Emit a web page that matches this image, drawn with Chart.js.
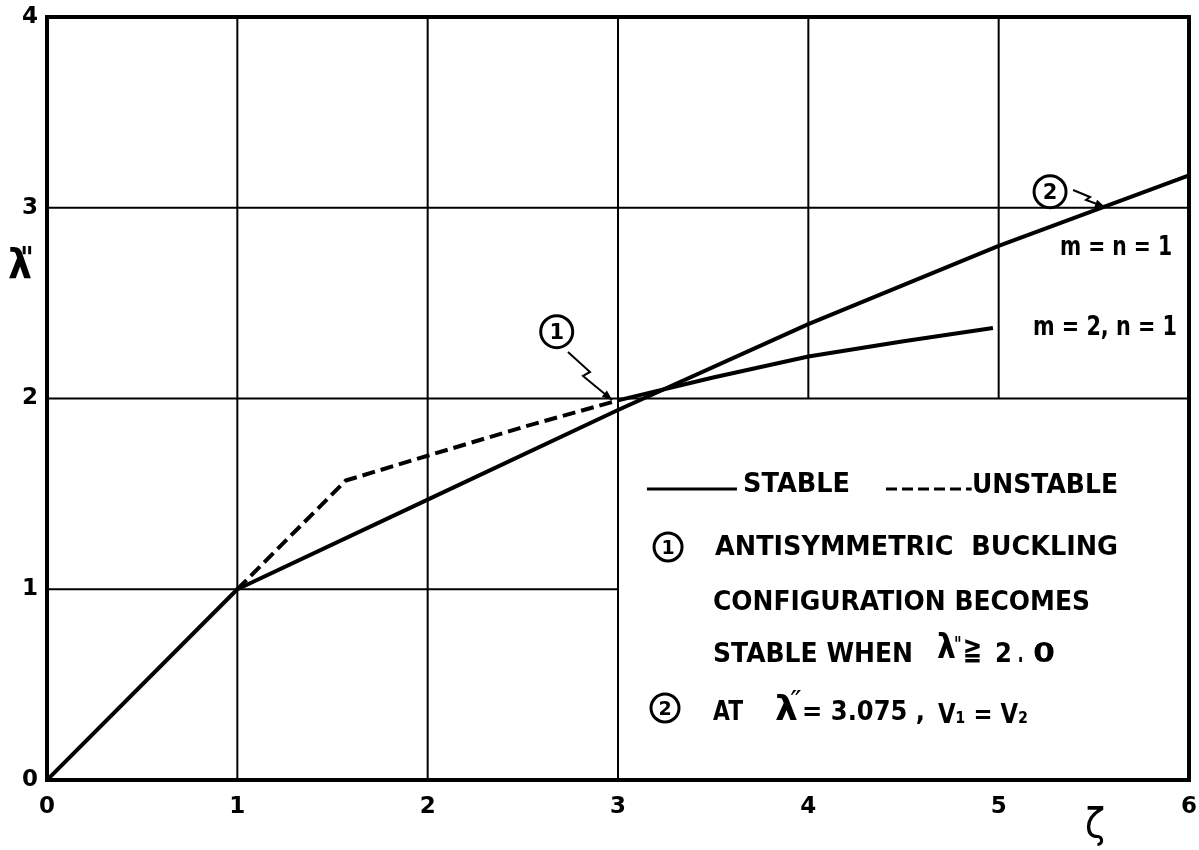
<!DOCTYPE html>
<html><head><meta charset="utf-8">
<script src="https://cdn.jsdelivr.net/npm/chart.js@4.4.0/dist/chart.umd.min.js"></script>
<style>html,body{margin:0;padding:0;background:#fff;}canvas{display:block;}</style>
</head><body>
<canvas id="c" width="1199" height="850"></canvas>
<script>
// ---- data ----
const xTicks = [0, 1, 2, 3, 4, 5, 6];
const yTicks = [0, 1, 2, 3, 4];
const mnOneX = [0, 1, 2, 3, 4, 5, 6];
const mnOneY = [0, 1, 1.47, 1.94, 2.39, 2.80, 3.17];
const mTwoUnstableX = [1, 1.57, 2, 2.5, 3.0];
const mTwoUnstableY = [1, 1.57, 1.70, 1.85, 1.99];
const mTwoStableX = [3.0, 3.5, 4, 4.5, 4.97];
const mTwoStableY = [1.99, 2.11, 2.22, 2.30, 2.37];
// grid segments: [value, from, to]
const vGrid = [[1, 0, 4], [2, 0, 4], [3, 0, 4], [4, 2, 4], [5, 2, 4]];
const hGrid = [[1, 0, 3], [2, 0, 6], [3, 0, 6]];

const FAM = '"DejaVu Sans", "Liberation Sans", sans-serif';
const pts = (xs, ys) => xs.map((x, i) => ({x, y: ys[i]}));

function fitText(ctx, text, x0, x1, base, size, weight) {
  ctx.save();
  ctx.font = (weight || 'bold') + ' ' + size + 'px ' + FAM;
  const w = ctx.measureText(text).width;
  ctx.translate(x0, base);
  ctx.scale((x1 - x0) / w, 1);
  ctx.textAlign = 'left';
  ctx.textBaseline = 'alphabetic';
  ctx.fillStyle = '#000';
  ctx.fillText(text, 0, 0);
  ctx.restore();
}

const decor = {
  id: 'decor',
  beforeDatasetsDraw(chart) {
    const ctx = chart.ctx, sx = chart.scales.x, sy = chart.scales.y;
    ctx.save();
    ctx.strokeStyle = '#000';
    ctx.lineWidth = 2;
    ctx.beginPath();
    vGrid.forEach(([v, a, b]) => {
      const px = sx.getPixelForValue(v);
      ctx.moveTo(px, sy.getPixelForValue(a));
      ctx.lineTo(px, sy.getPixelForValue(b));
    });
    hGrid.forEach(([v, a, b]) => {
      const py = sy.getPixelForValue(v);
      ctx.moveTo(sx.getPixelForValue(a), py);
      ctx.lineTo(sx.getPixelForValue(b), py);
    });
    ctx.stroke();
    ctx.restore();
  },
  afterDatasetsDraw(chart) {
    const ctx = chart.ctx, sx = chart.scales.x, sy = chart.scales.y;
    const X = v => sx.getPixelForValue(v), Y = v => sy.getPixelForValue(v);
    const ca = chart.chartArea;
    ctx.save();
    ctx.strokeStyle = '#000'; ctx.fillStyle = '#000';
    // frame
    ctx.lineWidth = 4;
    ctx.strokeRect(ca.left, ca.top, ca.right - ca.left, ca.bottom - ca.top);

    // circled numbers
    function circ(x, y, r, t, size) {
      ctx.save();
      ctx.lineWidth = 3;
      ctx.beginPath(); ctx.arc(X(x), Y(y), r, 0, Math.PI * 2); ctx.stroke();
      ctx.font = 'bold ' + size + 'px ' + FAM;
      ctx.textAlign = 'center'; ctx.textBaseline = 'alphabetic';
      ctx.fillText(t, X(x), Y(y) + size * 0.36);
      ctx.restore();
    }
    function arrow(list) {
      ctx.save();
      ctx.lineWidth = 2;
      ctx.beginPath();
      list.forEach(([x, y], i) => i ? ctx.lineTo(X(x), Y(y)) : ctx.moveTo(X(x), Y(y)));
      ctx.stroke();
      const [ax, ay] = list[list.length - 2], [bx, by] = list[list.length - 1];
      const ang = Math.atan2(Y(by) - Y(ay), X(bx) - X(ax));
      const L = 10, W = 4;
      ctx.beginPath();
      ctx.moveTo(X(bx), Y(by));
      ctx.lineTo(X(bx) - L * Math.cos(ang) + W * Math.sin(ang), Y(by) - L * Math.sin(ang) - W * Math.cos(ang));
      ctx.lineTo(X(bx) - L * Math.cos(ang) - W * Math.sin(ang), Y(by) - L * Math.sin(ang) + W * Math.cos(ang));
      ctx.closePath(); ctx.fill();
      ctx.restore();
    }
    circ(2.678, 2.350, 16, '1', 21);
    arrow([[2.737, 2.244], [2.853, 2.139], [2.816, 2.118], [2.969, 1.992]]);
    circ(5.270, 3.084, 16, '2', 21);
    arrow([[5.391, 3.093], [5.480, 3.056], [5.459, 3.041], [5.559, 3.004]]);

    // curve labels
    fitText(ctx, 'm = n = 1', X(5.322), X(5.911), Y(2.752), 27);
    fitText(ctx, 'm = 2, n = 1', X(5.180), X(5.937), Y(2.333), 27);

    // legend block
    ctx.save();
    ctx.lineWidth = 3;
    ctx.beginPath(); ctx.moveTo(X(3.152), Y(1.5256)); ctx.lineTo(X(3.625), Y(1.5256)); ctx.stroke();
    ctx.setLineDash([11, 5]);
    ctx.beginPath(); ctx.moveTo(X(4.408), Y(1.5256)); ctx.lineTo(X(4.858), Y(1.5256)); ctx.stroke();
    ctx.restore();
    fitText(ctx, 'STABLE', X(3.657), X(4.219), Y(1.510), 26);
    fitText(ctx, 'UNSTABLE', X(4.860), X(5.627), Y(1.505), 26);
    circ(3.263, 1.2215, 14, '1', 19);
    fitText(ctx, 'ANTISYMMETRIC  BUCKLING', X(3.510), X(5.627), Y(1.180), 27);
    fitText(ctx, 'CONFIGURATION BECOMES', X(3.499), X(5.480), Y(0.891), 27);
    fitText(ctx, 'STABLE WHEN', X(3.499), X(4.550), Y(0.619), 27);
    fitText(ctx, 'λ', X(4.676), X(4.775), Y(0.640), 34);
    fitText(ctx, '"', X(4.765), X(4.805), Y(0.640) - 6, 22);
    fitText(ctx, '≧', X(4.812), X(4.913), Y(0.632), 32);
    fitText(ctx, '2', X(4.981), X(5.070), Y(0.619), 27);
    fitText(ctx, '.', X(5.100), X(5.130), Y(0.619), 27);
    fitText(ctx, '0', X(5.180), X(5.296), Y(0.619), 27);
    circ(3.247, 0.3775, 14, '2', 19);
    fitText(ctx, 'AT', X(3.499), X(3.657), Y(0.315), 27);
    fitText(ctx, 'λ', X(3.825), X(3.945), Y(0.315), 34);
    fitText(ctx, '″', X(3.905), X(3.965), Y(0.315) - 10, 26, 'normal');
    fitText(ctx, '= 3.075 ,', X(3.967), X(4.613), Y(0.315), 27);
    fitText(ctx, 'V₁ = V₂', X(4.681), X(5.154), Y(0.300), 27);

    // axis titles
    fitText(ctx, 'λ', X(-0.205), X(-0.079), Y(2.632), 40);
    fitText(ctx, '"', X(-0.140), X(-0.070), Y(2.632) - 10, 30);
    fitText(ctx, 'ζ', X(5.454), X(5.559), Y(-0.299), 40, 'normal');
    ctx.restore();
  }
};

const lineStyle = {borderColor: '#000', borderWidth: 4, pointRadius: 0, showLine: true, tension: 0, fill: false, borderJoinStyle: 'round'};

new Chart(document.getElementById('c'), {
  type: 'scatter',
  data: {
    datasets: [
      Object.assign({label: 'm = n = 1', data: pts(mnOneX, mnOneY)}, lineStyle),
      Object.assign({label: 'm = 2, n = 1 (unstable)', data: pts(mTwoUnstableX, mTwoUnstableY), borderDash: [13, 6]}, lineStyle),
      Object.assign({label: 'm = 2, n = 1 (stable)', data: pts(mTwoStableX, mTwoStableY)}, lineStyle)
    ]
  },
  options: {
    responsive: false,
    animation: false,
    devicePixelRatio: 1,
    layout: {padding: {top: 17, right: 10, left: 0, bottom: 0}},
    plugins: {legend: {display: false}, tooltip: {enabled: false}},
    scales: {
      x: {
        type: 'linear', min: 0, max: 6,
        afterBuildTicks: s => { s.ticks = xTicks.map(v => ({value: v})); },
        afterFit: s => { s.height = 70; s.paddingLeft = 0; s.paddingRight = 0; },
        grid: {display: false, drawTicks: false},
        border: {display: false},
        ticks: {color: '#000', padding: 13, maxRotation: 0, autoSkip: false, font: {family: FAM, size: 23, weight: 'bold'}}
      },
      y: {
        type: 'linear', min: 0, max: 4,
        afterBuildTicks: s => { s.ticks = yTicks.map(v => ({value: v})); },
        afterFit: s => { s.width = 47; s.paddingTop = 0; s.paddingBottom = 0; },
        grid: {display: false, drawTicks: false},
        border: {display: false},
        ticks: {color: '#000', padding: 9, autoSkip: false, font: {family: FAM, size: 23, weight: 'bold'}}
      }
    }
  },
  plugins: [decor]
});
</script>
</body></html>
